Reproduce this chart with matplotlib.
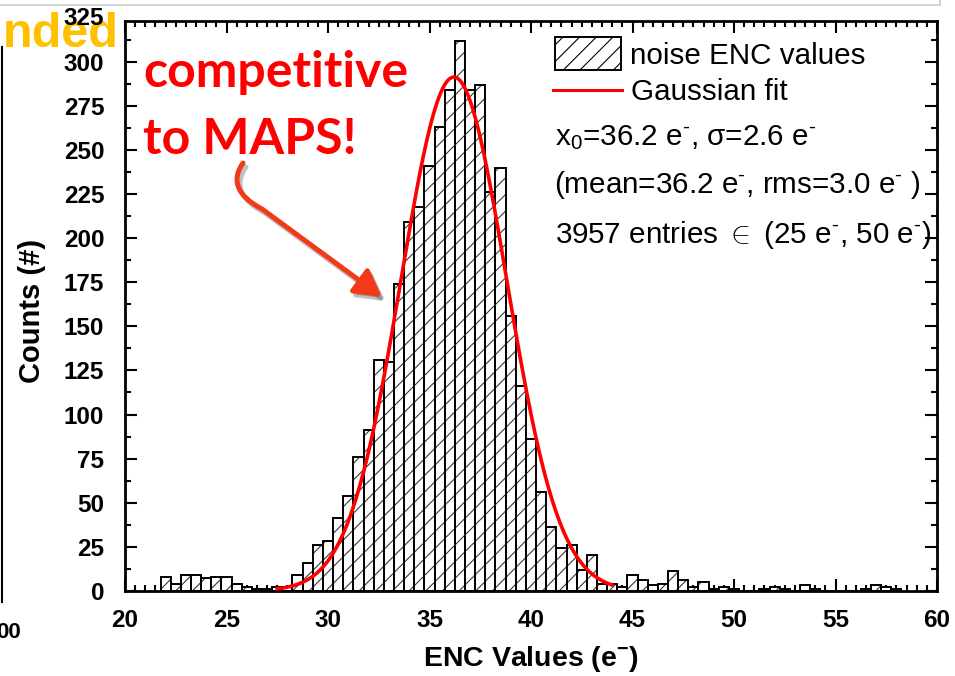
import numpy as np
import matplotlib
matplotlib.use("Agg")
import matplotlib.pyplot as plt
from matplotlib.patches import Rectangle, FancyArrowPatch, ArrowStyle
from matplotlib.path import Path
from matplotlib.lines import Line2D
from matplotlib.ticker import MultipleLocator
import matplotlib.transforms as mtransforms

plt.rcParams['font.family'] = ['Liberation Sans', 'DejaVu Sans']
plt.rcParams['mathtext.fontset'] = 'custom'
plt.rcParams['mathtext.rm'] = 'Liberation Sans'
plt.rcParams['mathtext.it'] = 'Liberation Sans:italic'
plt.rcParams['mathtext.bf'] = 'Liberation Sans:bold'
plt.rcParams['mathtext.fallback'] = 'cm'
plt.rcParams['hatch.linewidth'] = 0.8

# ---------------- data ----------------
bin_centers = [22.0, 22.5, 23.0, 23.5, 24.0, 24.5, 25.0, 25.5, 26.0, 26.5,
               27.0, 27.5, 28.0, 28.5, 29.0, 29.5, 30.0, 30.5, 31.0, 31.5,
               32.0, 32.5, 33.0, 33.5, 34.0, 34.5, 35.0, 35.5, 36.0, 36.5,
               37.0, 37.5, 38.0, 38.5, 39.0, 39.5, 40.0, 40.5, 41.0, 41.5,
               42.0, 42.5, 43.0, 43.5, 44.0, 44.5, 45.0, 45.5, 46.0, 46.5,
               47.0, 47.5, 48.0, 48.5, 49.0, 49.5, 50.0, 50.5, 51.0, 51.5,
               52.0, 52.5, 53.0, 53.5, 54.0, 54.5, 55.0, 55.5, 56.0, 56.5,
               57.0, 57.5, 58.0]
counts = [8, 4, 9, 9, 7, 8, 8, 4, 2, 1,
          1, 2, 2, 9, 16, 26, 28, 41, 54, 76,
          91, 131, 130, 174, 209, 218, 241, 263, 284, 312,
          284, 287, 226, 240, 156, 116, 86, 56, 36, 24,
          26, 12, 20, 4, 4, 2, 9, 6, 3, 4,
          11, 6, 2, 5, 1, 2, 1, 0, 0, 1,
          2, 1, 0, 3, 1, 0, 0, 0, 0, 1,
          3, 2, 1]
bin_width = 0.5

fit_x0 = 36.2
fit_sigma = 2.6
fit_amplitude = 291.5
fit_range = (27.5, 44.0)
mean_val = 36.2
rms_val = 3.0
n_entries = 3957
entry_range = (25, 50)

x_ticks = [20, 25, 30, 35, 40, 45, 50, 55, 60]
y_ticks = [0, 25, 50, 75, 100, 125, 150, 175, 200, 225, 250, 275, 300]

# ---------------- figure ----------------
W, H = 955, 676
fig = plt.figure(figsize=(W / 100, H / 100), dpi=100)
ax_left, ax_right, ax_bottom, ax_top = 125, 937, 590.7, 20.7
ax = fig.add_axes([ax_left / W, 1 - ax_bottom / H,
                   (ax_right - ax_left) / W, (ax_bottom - ax_top) / H])

# histogram bars: hatch layer + outline layer
ax.bar(bin_centers, counts, width=bin_width, facecolor='white',
       edgecolor='#3a3a3a', linewidth=0, hatch='//', zorder=2)
ax.bar(bin_centers, counts, width=bin_width, fill=False,
       edgecolor='black', linewidth=1.4, zorder=3)

# Gaussian fit
xf = np.linspace(fit_range[0], fit_range[1], 400)
yf = fit_amplitude * np.exp(-0.5 * ((xf - fit_x0) / fit_sigma) ** 2)
ax.plot(xf, yf, color='#ff0000', lw=2.6, zorder=4)

ax.set_xlim(20, 60)
ax.set_ylim(0, 323.5)
ax.set_xticks(x_ticks)
ax.set_yticks(y_ticks)
ax.xaxis.set_minor_locator(MultipleLocator(0.5))
ax.yaxis.set_minor_locator(MultipleLocator(12.5))
ax.tick_params(which='both', direction='in', top=True, right=True,
               width=1.5, labelsize=17.5)
ax.tick_params(which='major', length=8.5)
ax.tick_params(axis='x', which='major', pad=13)
ax.tick_params(axis='y', which='major', pad=15)
ax.tick_params(which='minor', length=4)
for lbl in ax.get_xticklabels() + ax.get_yticklabels():
    lbl.set_fontweight('bold')
for s in ax.spines.values():
    s.set_linewidth(2)

# extra "325" label above the frame
tr = ax.transAxes + mtransforms.ScaledTranslation(-15 / 72, 0, fig.dpi_scale_trans)
tr = mtransforms.blended_transform_factory(tr, ax.transData)
ax.text(0, 325, '325', transform=tr, ha='right', va='center', fontsize=17.5,
        fontweight='bold', clip_on=False)

ax.set_xlabel('ENC Values (e$^{\\mathbf{-}}$)', fontsize=20.5, fontweight='bold')
ax.xaxis.set_label_coords(0.5, -0.094)
ax.set_ylabel('Counts (#)', fontsize=21, fontweight='bold')
ax.yaxis.set_label_coords(-0.097, 0.49)

# ---------------- legend / annotation box ----------------
def fx(px):
    return (px - ax_left) / (ax_right - ax_left)

def fy(py):
    return (ax_bottom - py) / (ax_bottom - ax_top)

leg_fs = 21.3
sup = '$^{\\text{-}}$'
ax.add_patch(Rectangle((fx(555), fy(70)), fx(621) - fx(555), fy(37.3) - fy(70),
                       transform=ax.transAxes, facecolor='white',
                       edgecolor='black', linewidth=1.4, hatch='//', zorder=5))
ax.text(fx(630.5), fy(64), 'noise ENC values', transform=ax.transAxes,
        fontsize=leg_fs, va='baseline', ha='left', zorder=5)
ax.add_line(Line2D([fx(553), fx(622)], [fy(90), fy(90)], transform=ax.transAxes,
                   color='#ff0000', lw=2.2, zorder=5))
ax.text(fx(631), fy(100), 'Gaussian fit', transform=ax.transAxes,
        fontsize=leg_fs, va='baseline', ha='left', zorder=5)
ax.text(fx(555), fy(145),
        f'x$_0$={fit_x0:.1f} e{sup}, σ={fit_sigma:.1f} e{sup}',
        transform=ax.transAxes, fontsize=leg_fs, va='baseline', ha='left', zorder=5)
ax.text(fx(554), fy(193),
        f'(mean={mean_val:.1f} e{sup}, rms={rms_val:.1f} e{sup} )',
        transform=ax.transAxes, fontsize=leg_fs, va='baseline', ha='left', zorder=5)
ax.text(fx(555), fy(243),
        f'{n_entries} entries $\\in$ ({entry_range[0]} e{sup}, {entry_range[1]} e{sup})',
        transform=ax.transAxes, fontsize=leg_fs, va='baseline', ha='left', zorder=5)

# ---------------- slide decorations ----------------
def F(px, py):
    return (px / W, 1 - py / H)

fig.text(*F(143, 87), 'competitive', color='#ff0000', fontsize=36,
         fontweight='bold', family=['Lato', 'DejaVu Sans'], ha='left', va='baseline')
fig.text(*F(143, 154), 'to MAPS!', color='#ff0000', fontsize=36,
         fontweight='bold', family=['Lato', 'DejaVu Sans'], ha='left', va='baseline')

fig.text(*F(119, 47), 'nded', color='#FFC000', fontsize=35, fontweight='bold',
         ha='right', va='baseline', zorder=-1)
fig.text(*F(21, 632), '00', color='black', fontsize=16, fontweight='bold',
         ha='right', va='center')

fig.add_artist(Line2D([0, 940 / W], [1 - 5 / H, 1 - 5 / H], transform=fig.transFigure,
                      color='#cccccc', lw=1.2))
fig.add_artist(Line2D([940 / W, 940 / W], [1, 1 - 5 / H], transform=fig.transFigure,
                      color='#cccccc', lw=1.2))
fig.add_artist(Line2D([1.5 / W, 1.5 / W], [1 - 47 / H, 1 - 602 / H],
                      transform=fig.transFigure, color='black', lw=1.5))

# curved arrow
def arrow_path(dx=0, dy=0):
    pts = [(243, 163), (231, 180), (237, 196), (262, 209), (382, 297)]
    verts = [F(x + dx, y + dy) for x, y in pts]
    codes = [Path.MOVETO, Path.CURVE4, Path.CURVE4, Path.CURVE4, Path.LINETO]
    return Path(verts, codes)

style = ArrowStyle('-|>', head_length=0.8, head_width=0.45)
shadow = FancyArrowPatch(path=arrow_path(3, 4), arrowstyle=style, mutation_scale=20,
                         color='#777777', alpha=0.45, lw=3.6, transform=fig.transFigure,
                         zorder=6)
arrow = FancyArrowPatch(path=arrow_path(), arrowstyle=style, mutation_scale=20,
                        color='#f23a1a', lw=3.6, transform=fig.transFigure, zorder=7)
fig.add_artist(shadow)
fig.add_artist(arrow)

fig.savefig('out.png', dpi=100)
